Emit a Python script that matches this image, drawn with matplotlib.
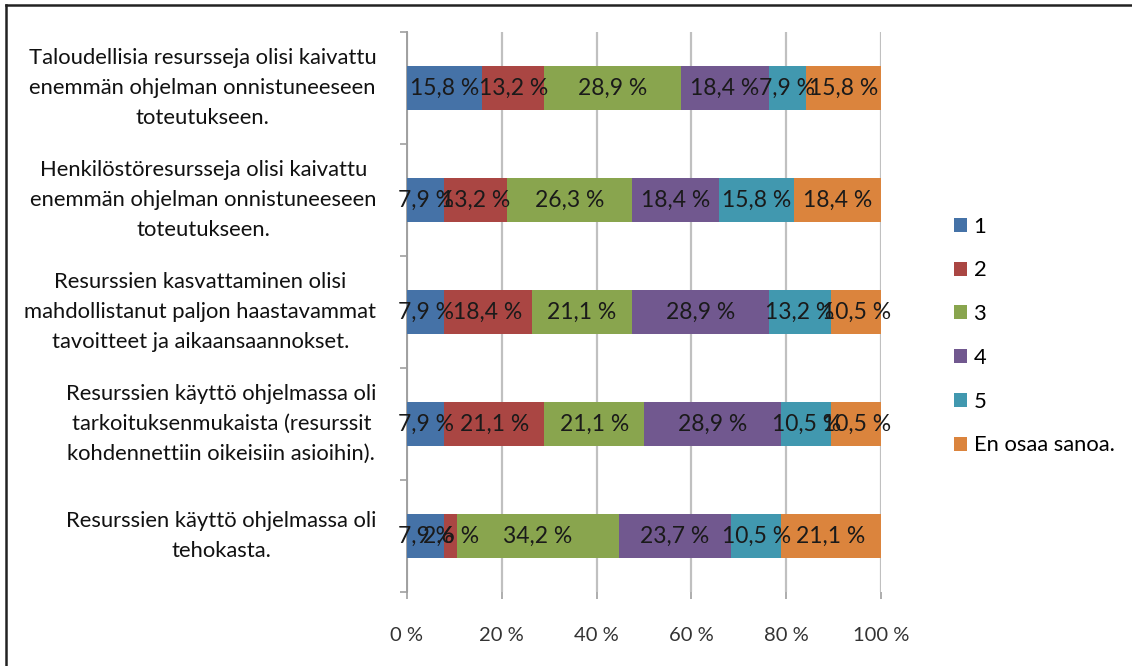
import matplotlib
matplotlib.use("Agg")
import matplotlib.pyplot as plt
from matplotlib.lines import Line2D
from matplotlib.patches import Patch
import numpy as np

plt.rcParams['font.family'] = ['Lato', 'DejaVu Sans']

statements = [
    "Taloudellisia resursseja olisi kaivattu\nenemmän ohjelman onnistuneeseen\ntoteutukseen.",
    "Henkilöstöresursseja olisi kaivattu\nenemmän ohjelman onnistuneeseen\ntoteutukseen.",
    "Resurssien kasvattaminen olisi\nmahdollistanut paljon haastavammat\ntavoitteet ja aikaansaannokset.",
    "Resurssien käyttö ohjelmassa oli\ntarkoituksenmukaista (resurssit\nkohdennettiin oikeisiin asioihin).",
    "Resurssien käyttö ohjelmassa oli\ntehokasta.",
]
series_names = ["1", "2", "3", "4", "5", "En osaa sanoa."]
resp_1 = [15.8, 7.9, 7.9, 7.9, 7.9]
resp_2 = [13.2, 13.2, 18.4, 21.1, 2.6]
resp_3 = [28.9, 26.3, 21.1, 21.1, 34.2]
resp_4 = [18.4, 18.4, 28.9, 28.9, 23.7]
resp_5 = [7.9, 15.8, 13.2, 10.5, 10.5]
resp_eos = [15.8, 18.4, 10.5, 10.5, 21.1]
x_ticks = [0, 20, 40, 60, 80, 100]
x_tick_labels = ["0 %", "20 %", "40 %", "60 %", "80 %", "100 %"]

colors = ["#4572A7", "#AA4643", "#89A54E", "#71588F", "#4198AF", "#DB843D"]

W, H = 1132, 666
fig = plt.figure(figsize=(W / 100, H / 100), dpi=100)
ax = fig.add_axes([407 / W, 1 - 592 / H, 474 / W, 560 / H])

ypos = np.arange(len(statements))
left = np.zeros(len(statements))
for name, vals, col in zip(series_names,
                           [resp_1, resp_2, resp_3, resp_4, resp_5, resp_eos],
                           colors):
    vals = np.array(vals)
    ax.barh(ypos, vals, left=left, height=0.4, color=col, label=name,
            edgecolor='none', zorder=3)
    for y, l, v in zip(ypos, left, vals):
        ax.text(l + v / 2, y, f"{v:.1f} %".replace('.', ','), ha='center',
                va='center', fontsize=16.5, color='#1a1a1a', zorder=4)
    left += vals

ax.set_xlim(0, 100)
ax.set_ylim(len(statements) - 0.5, -0.5)
ax.set_xticks(x_ticks)
ax.set_xticklabels(x_tick_labels, fontsize=14.5, color='#333333')
ax.set_yticks(ypos)
ax.set_yticklabels(statements, fontsize=15.8, color='#111111',
                   multialignment='center', linespacing=1.6, va='center')
ax.set_yticks(np.arange(-0.5, len(statements)), minor=True)
ax.tick_params(axis='y', which='major', length=0, pad=22)
ax.tick_params(axis='y', which='minor', length=5, color='#a0a0a0', width=1.2)
ax.tick_params(axis='x', length=5, color='#a0a0a0', width=1.2, pad=20)

ax.grid(axis='x', color='#c0c0c0', linewidth=1.6, zorder=0)
for s in ['top', 'right', 'bottom']:
    ax.spines[s].set_visible(False)
ax.spines['left'].set_color('#a0a0a0')
ax.spines['left'].set_linewidth(1.4)

handles = [Patch(facecolor=c, edgecolor='none') for c in colors]
fig.legend(handles, series_names, loc='upper left',
           bbox_to_anchor=(945 / W, 1 - 208 / H), frameon=False,
           fontsize=15.8, handlelength=0.6, handleheight=0.6,
           handletextpad=0.3, labelspacing=1.08, borderaxespad=0)

# outer frame lines
fig.add_artist(Line2D([6 / W, 1], [1 - 5 / H, 1 - 5 / H],
                      transform=fig.transFigure, color='#222222', linewidth=1.8))
fig.add_artist(Line2D([6 / W, 6 / W], [0, 1 - 5 / H],
                      transform=fig.transFigure, color='#222222', linewidth=1.8))

fig.savefig("out.png", dpi=100)
